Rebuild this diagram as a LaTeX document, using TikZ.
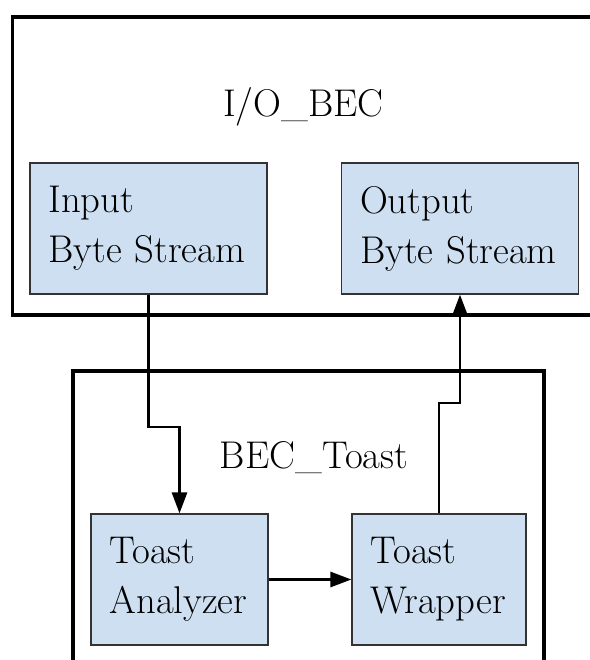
\documentclass[tikz,border=0pt]{standalone}
\usepackage{xcolor}
\usepackage{tikz}
\usetikzlibrary{arrows.meta}

\definecolor{boxblue}{RGB}{205,223,240}

\begin{document}
\begin{tikzpicture}[
    group/.style={draw=black, line width=2pt, minimum width=#1},
    block/.style={rectangle, draw=black!80, line width=0.7pt, fill=boxblue,
                  align=left, inner xsep=0.37cm, minimum height=2.62cm,
                  text width=#1, font=\fontsize{22}{28.5}\selectfont},
    title/.style={anchor=base, font=\fontsize{22}{28.5}\selectfont},
    flow/.style={-{Triangle[length=0.42cm, width=0.3cm]}, line width=1.6pt}
]
\useasboundingbox (0,0) rectangle (11.78,-13.2);
\node[group=12.05cm, minimum height=5.96cm] (io) at (6.275,-3.32) {};
\node[group=9.42cm, minimum height=6.6cm] (bt) at (6.17,-10.72) {};
\node[title] (iot) at (6.07,-2.34) {I/O\_BEC};
\node[title] (btt) at (6.28,-9.36) {BEC\_Toast};
\node[block=4.0cm] (in)   at (2.97,-4.57)  {Input\\Byte Stream};
\node[block=4.0cm] (out)  at (9.20,-4.57)  {Output\\Byte Stream};
\node[block=2.8cm] (ana)  at (3.59,-11.59) {Toast\\Analyzer};
\node[block=2.74cm] (wrap) at (8.78,-11.59) {Toast\\Wrapper};
\draw[flow] (in.south) -- (in.south |- 0,-8.54) -| (ana.north);
\draw[flow] (wrap.north) -- (wrap.north |- 0,-8.06) -| (out.south);
\draw[flow] (ana) -- (wrap);
\end{tikzpicture}
\end{document}
